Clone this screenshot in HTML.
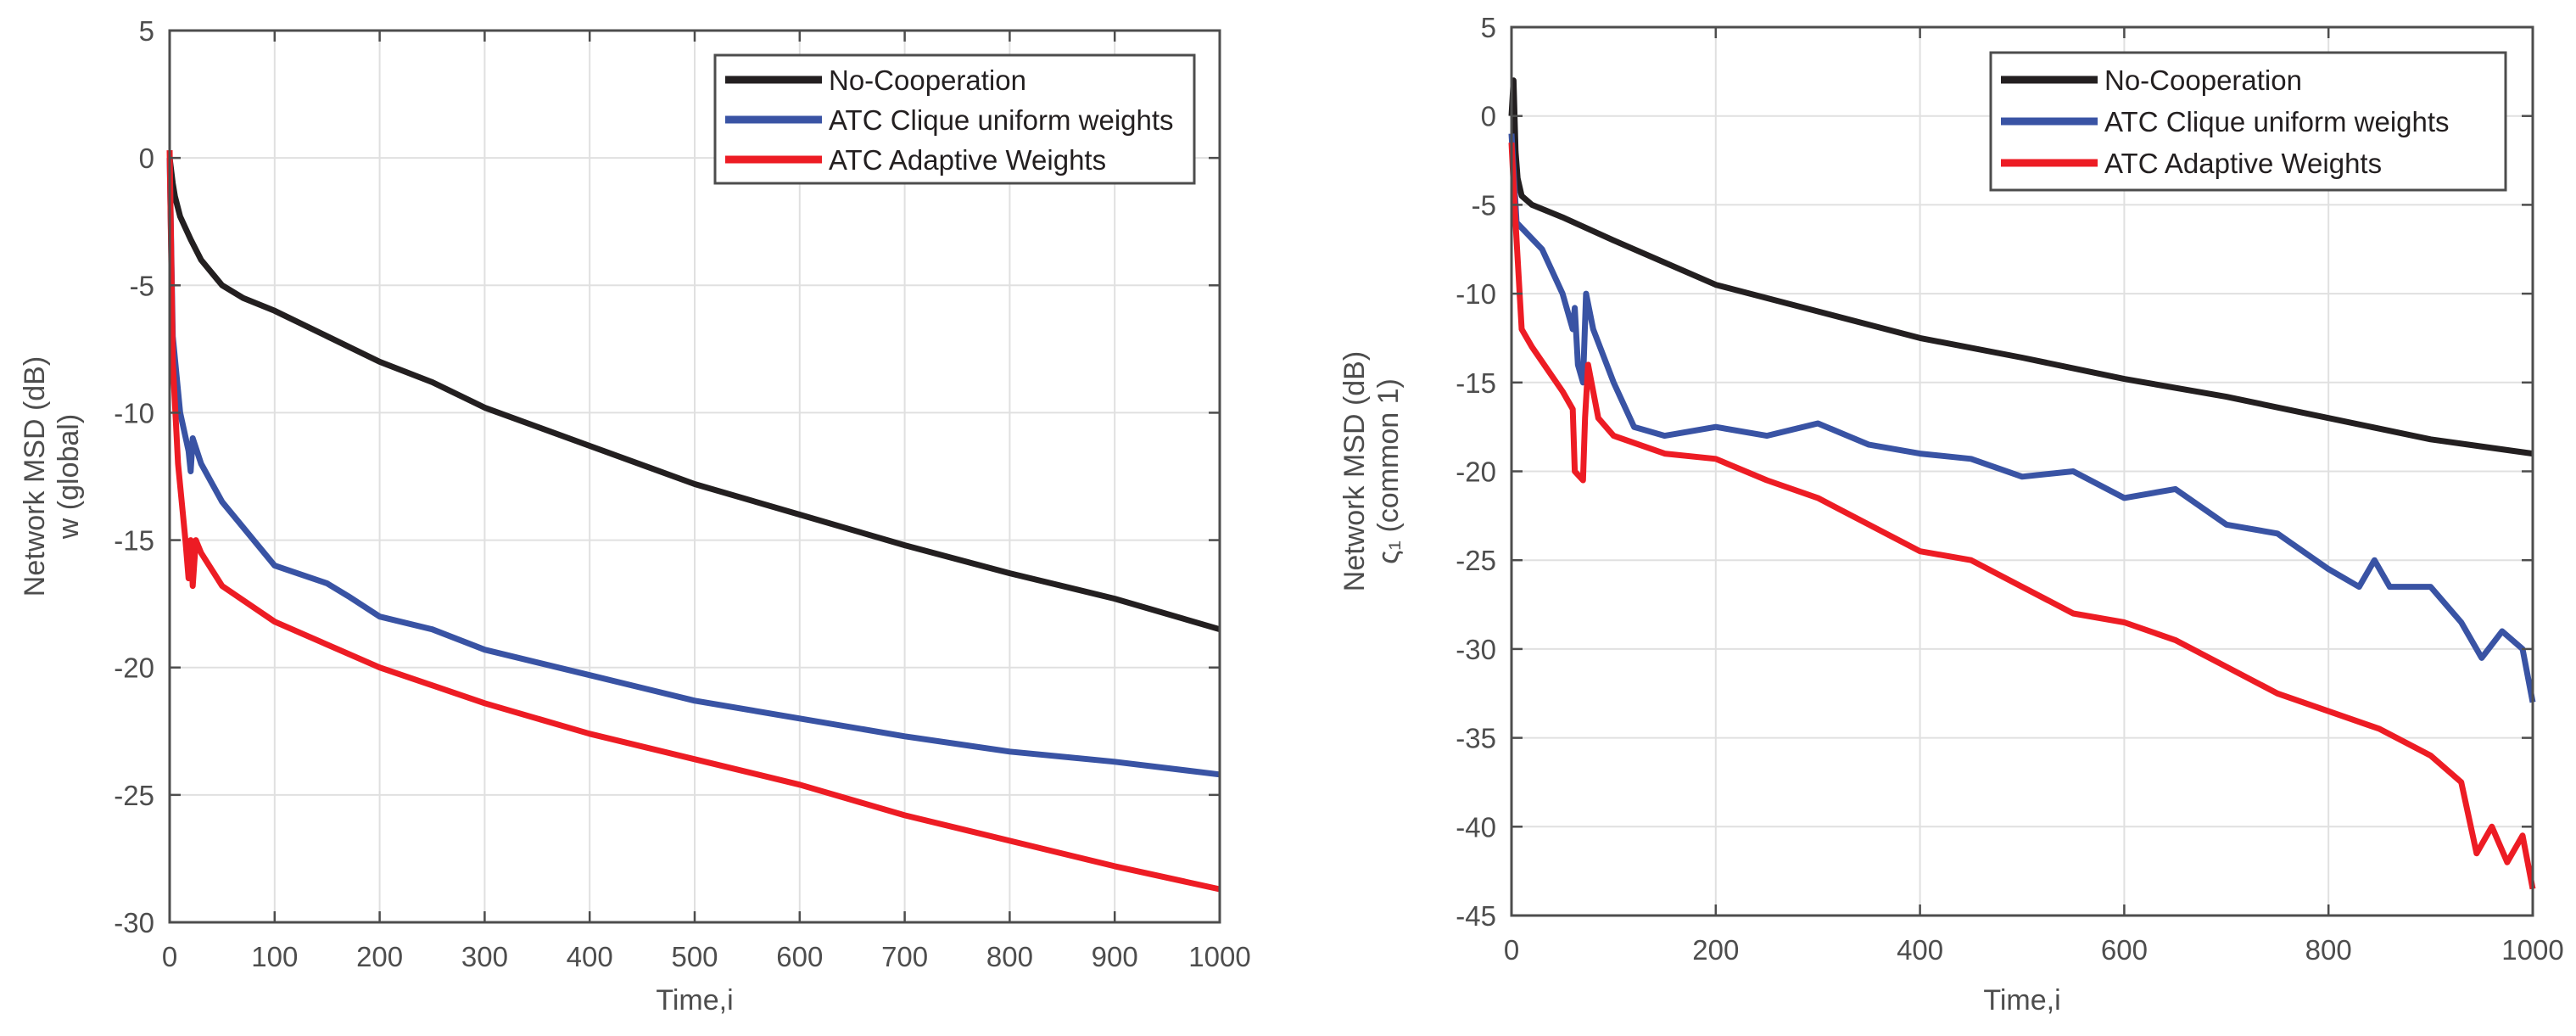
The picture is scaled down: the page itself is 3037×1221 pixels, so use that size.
<!DOCTYPE html>
<html><head><meta charset="utf-8">
<style>
html,body{margin:0;padding:0;background:#fff;}
svg{display:block;font-family:"Liberation Sans",sans-serif;}
</style></head>
<body>
<svg id="c" width="3037" height="1221" viewBox="0 0 3037 1221" xmlns="http://www.w3.org/2000/svg"></svg>
<script>
const leftT = [0,3,5,10,20,30,50,70,100,150,200,250,300,400,500,600,700,800,900,1000];
const leftBlack = [0,-1,-1.5,-2.3,-3.2,-4,-5,-5.5,-6,-7,-8,-8.8,-9.8,-11.3,-12.8,-14,-15.2,-16.3,-17.3,-18.5];
const leftBlueT = [0,3,10,18,20,22,30,50,100,150,170,200,250,300,400,500,600,700,800,900,1000];
const leftBlue = [0,-7,-10,-11.5,-12.3,-11,-12,-13.5,-16,-16.7,-17.2,-18,-18.5,-19.3,-20.3,-21.3,-22,-22.7,-23.3,-23.7,-24.2];
const leftRedT = [0,3,8,15,18,20,22,25,30,50,100,200,300,400,500,600,700,800,900,1000];
const leftRed = [0.3,-8,-12,-15,-16.5,-15,-16.8,-15,-15.5,-16.8,-18.2,-20,-21.4,-22.6,-23.6,-24.6,-25.8,-26.8,-27.8,-28.7];

const rightBlackT = [0,2,4,6,10,20,50,100,200,300,400,500,600,700,800,900,1000];
const rightBlack = [0,2,-2,-3.5,-4.5,-5,-5.7,-7,-9.5,-11,-12.5,-13.6,-14.8,-15.8,-17,-18.2,-19];
const rightBlueT = [0,5,30,50,60,62,65,70,73,80,100,120,150,200,250,300,350,400,450,500,550,600,650,700,750,800,830,845,860,900,930,950,970,990,1000];
const rightBlue = [-1,-6,-7.5,-10,-12,-10.8,-14,-15,-10,-12,-15,-17.5,-18,-17.5,-18,-17.3,-18.5,-19,-19.3,-20.3,-20,-21.5,-21,-23,-23.5,-25.5,-26.5,-25,-26.5,-26.5,-28.5,-30.5,-29,-30,-33];
const rightRedT = [0,3,10,20,50,60,62,70,72,75,85,100,150,200,250,300,350,400,450,500,550,600,650,700,750,800,850,900,930,945,960,975,990,1000];
const rightRed = [-1.5,-5,-12,-13,-15.5,-16.5,-20,-20.5,-17,-14,-17,-18,-19,-19.3,-20.5,-21.5,-23,-24.5,-25,-26.5,-28,-28.5,-29.5,-31,-32.5,-33.5,-34.5,-36,-37.5,-41.5,-40,-42,-40.5,-43.5];

const leftXTicks = [0,100,200,300,400,500,600,700,800,900,1000];
const leftYTicks = [5,0,-5,-10,-15,-20,-25,-30];
const rightXTicks = [0,200,400,600,800,1000];
const rightYTicks = [5,0,-5,-10,-15,-20,-25,-30,-35,-40,-45];
const legendLabels = ["No-Cooperation","ATC Clique uniform weights","ATC Adaptive Weights"];
const colors = ["#231f20","#3953a4","#ed1c24"];

const svg = document.getElementById('c');
const NS = "http://www.w3.org/2000/svg";
function mk(tag, attrs, parent){const e=document.createElementNS(NS,tag);for(const k in attrs)e.setAttribute(k,attrs[k]);(parent||svg).appendChild(e);return e;}

function panel(p){
  const g = mk('g',{});
  
  
  const sx = v => p.x0 + (v - p.xmin)/(p.xmax-p.xmin)*(p.x1-p.x0);
  const sy = v => p.y0 + (p.ymax - v)/(p.ymax-p.ymin)*(p.y1-p.y0);
  p.xt.forEach(t=>{ const l=mk('line',{x1:sx(t),x2:sx(t),y1:p.y0,y2:p.y1,stroke:'#e0e0e0','stroke-width':2},g);
     });
  p.yt.forEach(t=>{ const l=mk('line',{x1:p.x0,x2:p.x1,y1:sy(t),y2:sy(t),stroke:'#e0e0e0','stroke-width':2},g);
     });
  p.series.forEach((s,i)=>{
    const d = s.t.map((t,j)=>(j?'L':'M')+sx(t).toFixed(1)+' '+sy(s.v[j]).toFixed(1)).join(' ');
    const path = mk('path',{d:d,fill:'none',stroke:colors[i],'stroke-width':7,'stroke-linejoin':'round'},g);
    
    
  });
  const box = mk('rect',{x:p.x0,y:p.y0,width:p.x1-p.x0,height:p.y1-p.y0,fill:'none',stroke:'#4d4d4d','stroke-width':3},g);
   
  p.xt.forEach(t=>{
    mk('line',{x1:sx(t),x2:sx(t),y1:p.y1,y2:p.y1-13,stroke:'#4d4d4d','stroke-width':2.5},g);
    mk('line',{x1:sx(t),x2:sx(t),y1:p.y0,y2:p.y0+13,stroke:'#4d4d4d','stroke-width':2.5},g);
    const tx = mk('text',{x:sx(t),y:p.y1+52,'text-anchor':'middle','font-size':33,fill:'#4d4d4d'},g);
    tx.textContent=t;
     
  });
  p.yt.forEach(t=>{
    mk('line',{x1:p.x0,x2:p.x0+13,y1:sy(t),y2:sy(t),stroke:'#4d4d4d','stroke-width':2.5},g);
    mk('line',{x1:p.x1,x2:p.x1-13,y1:sy(t),y2:sy(t),stroke:'#4d4d4d','stroke-width':2.5},g);
    const tx = mk('text',{x:p.x0-18,y:sy(t)+12,'text-anchor':'end','font-size':33,fill:'#4d4d4d'},g);
    tx.textContent=t;
     
  });
  const xl = mk('text',{x:(p.x0+p.x1)/2,y:1190,'text-anchor':'middle','font-size':34,fill:'#4d4d4d'},g);
  xl.textContent='Time,i';
   
  const cy=(p.y0+p.y1)/2;
  const yl1 = mk('text',{x:p.ylx1,y:cy,'text-anchor':'middle','font-size':34,fill:'#4d4d4d',transform:`rotate(-90 ${p.ylx1} ${cy})`},g);
  yl1.textContent='Network MSD (dB)';
   
  const yl2 = mk('text',{x:p.ylx2,y:cy,'text-anchor':'middle','font-size':34,fill:'#4d4d4d',transform:`rotate(-90 ${p.ylx2} ${cy})`},g);
  yl2.textContent=p.sub;
   
  const L=p.leg;
  const lg = mk('g',{},g);
   
  mk('rect',{x:L.x,y:L.y,width:L.w,height:L.h,fill:'#fff',stroke:'#4d4d4d','stroke-width':3},lg);
  legendLabels.forEach((lab,i)=>{
    const ry=L.y+L.r0+i*L.dr;
    const e = mk('g',{},lg);
     
    mk('line',{x1:L.x+12,x2:L.x+126,y1:ry,y2:ry,stroke:colors[i],'stroke-width':9},e);
    const tx=mk('text',{x:L.x+134,y:ry+12,'font-size':33,fill:'#231f20'},e);
    tx.textContent=lab;
  });
}

panel({name:'left-panel',x0:200,x1:1438,y0:36,y1:1087,xmin:0,xmax:1000,ymin:-30,ymax:5,
  xt:leftXTicks,yt:leftYTicks,ylx1:52,ylx2:92,sub:'w (global)',
  leg:{x:843,y:65,w:565,h:151,r0:29,dr:47},
  series:[{t:leftT,v:leftBlack},{t:leftBlueT,v:leftBlue},{t:leftRedT,v:leftRed}]});
panel({name:'right-panel',x0:1782,x1:2986,y0:32,y1:1079,xmin:0,xmax:1000,ymin:-45,ymax:5,
  xt:rightXTicks,yt:rightYTicks,ylx1:1608,ylx2:1648,sub:'ς₁ (common 1)',
  leg:{x:2347,y:62,w:607,h:162,r0:32,dr:49},
  series:[{t:rightBlackT,v:rightBlack},{t:rightBlueT,v:rightBlue},{t:rightRedT,v:rightRed}]});
</script>
</body></html>
